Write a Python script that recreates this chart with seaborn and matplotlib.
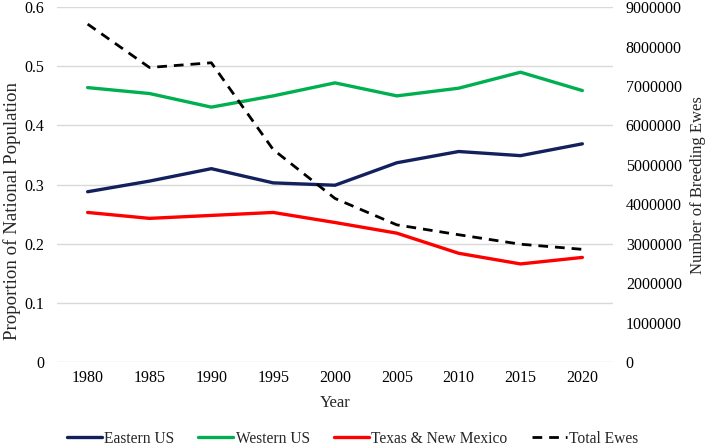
import pandas as pd
import numpy as np
import matplotlib
matplotlib.use('Agg')
import matplotlib.pyplot as plt
import seaborn as sns

years = [1980, 1985, 1990, 1995, 2000, 2005, 2010, 2015, 2020]
eastern = [0.288, 0.306, 0.327, 0.303, 0.299, 0.337, 0.356, 0.349, 0.369]
western = [0.464, 0.454, 0.431, 0.450, 0.472, 0.450, 0.463, 0.490, 0.459]
texas_nm = [0.253, 0.243, 0.248, 0.253, 0.236, 0.218, 0.184, 0.166, 0.177]
total_ewes = [8570000, 7470000, 7590000, 5390000, 4150000, 3480000, 3230000, 2990000, 2860000]

regions = ['Eastern US', 'Western US', 'Texas & New Mexico']
colors = {'Eastern US': '#12215e', 'Western US': '#00b050', 'Texas & New Mexico': '#ff0000'}

df = pd.DataFrame({'Year': years * 3,
                   'Proportion': eastern + western + texas_nm,
                   'Region': [r for r in regions for _ in years]})
df_tot = pd.DataFrame({'Year': years, 'Ewes': total_ewes})

sns.set_style('white')
plt.rcParams['font.family'] = ['Liberation Serif', 'DejaVu Serif']

fig = plt.figure(figsize=(7.09, 4.46), dpi=100)
ax = fig.add_axes([0.080, 0.188, 0.785, 0.796])
sns.lineplot(data=df, x='Year', y='Proportion', hue='Region', hue_order=regions,
             palette=colors, linewidth=2.4, ax=ax, legend=False)
ax2 = ax.twinx()
sns.lineplot(data=df_tot, x='Year', y='Ewes', color='black', linewidth=2.0,
             dashes=False, ax=ax2)
ax2.lines[0].set_linestyle((0, (3.5, 2.5)))

ax.set_xlim(1977.5, 2022.5)
ax.set_xticks(years)
ax.set_ylim(0, 0.6)
ax.set_yticks(np.arange(0, 0.61, 0.1))
ax.set_yticklabels(['0', '0.1', '0.2', '0.3', '0.4', '0.5', '0.6'])
ax2.set_ylim(0, 9000000)
ax2.set_yticks(np.arange(0, 9000001, 1000000))
ax2.set_yticklabels([str(v) for v in range(0, 9000001, 1000000)])

ax.grid(axis='y', color='#d9d9d9', linewidth=1)
ax.set_axisbelow(True)
for a in (ax, ax2):
    for s in a.spines.values():
        s.set_visible(False)
    a.tick_params(length=0, labelsize=11.5, colors='black')
ax.tick_params(axis='x', pad=6)
ax.tick_params(axis='y', pad=9)
ax2.tick_params(axis='y', pad=9)

ax.set_xlabel('Year', fontsize=12, labelpad=6)
ax.set_ylabel('Proportion of National Population', fontsize=13.6)
ax.yaxis.set_label_coords(-0.064, 0.425)
ax2.set_ylabel('Number of Breeding Ewes', fontsize=12, labelpad=6)

handles = ax.lines[:3] + ax2.lines[:1]
labels = regions + ['Total Ewes']
fig.legend(handles, labels, loc='center', ncol=4, frameon=False,
           fontsize=11.2, handlelength=2.25, handletextpad=0.15, columnspacing=1.55,
           bbox_to_anchor=(0.497, 0.016), borderpad=0)

fig.savefig('out.png', dpi=100)
